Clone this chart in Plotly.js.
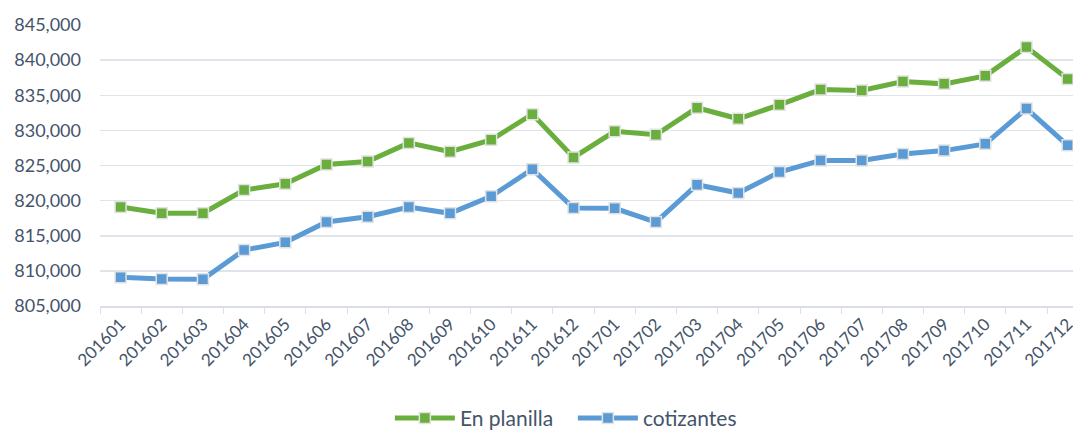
<!DOCTYPE html>
<html>
<head>
<meta charset="utf-8">
<script src="https://cdn.plot.ly/plotly-3.0.1.min.js"></script>
<style>html,body{margin:0;padding:0;background:#fff;}#chart{width:1073px;height:434px;}</style>
</head>
<body>
<div id="chart"></div>
<script>
const categories = ["201601","201602","201603","201604","201605","201606","201607","201608","201609","201610","201611","201612",
  "201701","201702","201703","201704","201705","201706","201707","201708","201709","201710","201711","201712"];
const enPlanilla = [819100,818190,818200,821510,822400,825140,825570,828220,826970,828650,832310,826150,
  829860,829380,833210,831650,833630,835810,835670,836950,836620,837760,841870,837330];
const cotizantes = [809090,808850,808800,812970,814060,816950,817710,819100,818190,820620,824480,818950,
  818900,816950,822260,821080,824060,825720,825720,826630,827120,828080,833110,827880];

const font = "Lato, 'Open Sans', sans-serif";
const textColor = "#44546a";

function trace(name, y, color) {
  return {
    type: "scatter", mode: "lines+markers", name: name,
    x: categories, y: y,
    line: {color: color, width: 5},
    marker: {symbol: "square", size: 11, color: color, line: {color: "#e2e2e2", width: 1.5}}
  };
}

const data = [trace("En planilla", enPlanilla, "#6aaf3d"), trace("cotizantes", cotizantes, "#5b9bd5")];

const layout = {
  width: 1073, height: 434,
  margin: {l: 100, r: 0, t: 25, b: 128, autoexpand: false},
  paper_bgcolor: "#fff", plot_bgcolor: "#fff",
  font: {family: font, color: textColor, size: 16},
  showlegend: true,
  legend: {orientation: "h", x: 0.486, xanchor: "center", y: -0.40, yanchor: "middle",
    font: {family: font, size: 21, color: textColor}, itemwidth: 60, entrywidth: 108,
    traceorder: "normal"},
  xaxis: {
    type: "category", range: [-0.5, 23.13], fixedrange: true, automargin: false,
    tickangle: -45, tickson: "boundaries", ticks: "outside", ticklen: 6, tickcolor: "#d9dee8",
    showline: true, linecolor: "#d9dee8", linewidth: 1.5, showgrid: false,
    tickfont: {family: font, size: 17, color: textColor}
  },
  yaxis: {
    range: [805000, 845000], dtick: 5000, tickformat: ",d", automargin: false,
    showgrid: true, gridcolor: "#dfe3ea", gridwidth: 1.5, zeroline: false,
    showline: false, ticks: "", ticklabelstandoff: 18,
    tickfont: {family: font, size: 18, color: textColor}
  }
};

Plotly.newPlot("chart", data, layout, {displayModeBar: false, staticPlot: true});
</script>
</body>
</html>
